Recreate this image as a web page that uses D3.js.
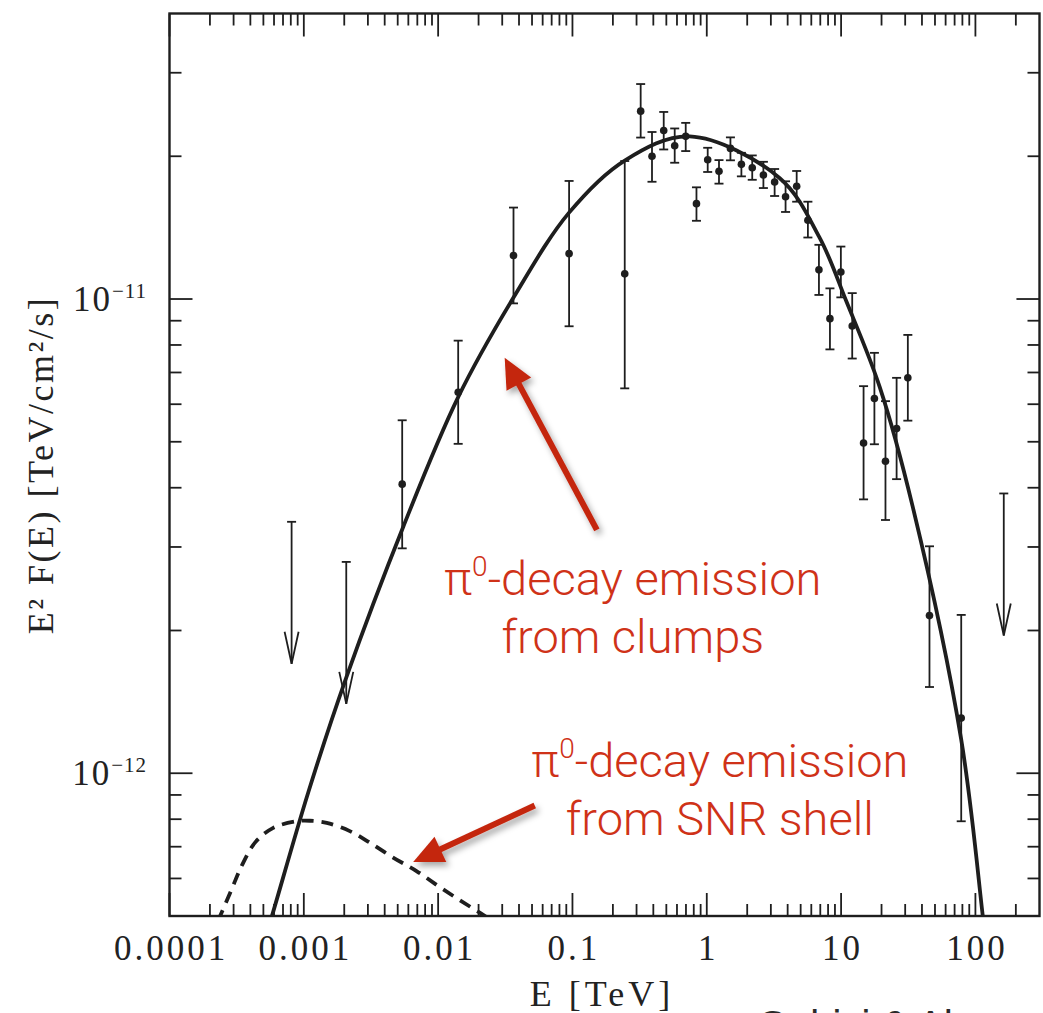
<!DOCTYPE html>
<html>
<head>
<meta charset="utf-8">
<script src="https://cdn.jsdelivr.net/npm/d3@7"></script>
<style>
  body { margin: 0; background: #fff; }
  .tick-label { font-family: 'Liberation Serif', 'Times New Roman', serif; fill: #222; }
  .note { font-family: Roboto, 'Helvetica Neue', Arial, sans-serif; font-weight: 300; fill: #cf3218; }
</style>
</head>
<body>
<svg id="chart" width="1043" height="1013"></svg>
<script>
// spectral points: energy [TeV], E^2 F(E) [TeV/cm^2/s] with error bar ends
const energy = [0.0054, 0.0141, 0.0364, 0.0944, 0.245, 0.322, 0.391, 0.478, 0.577, 0.697,
  0.838, 1.016, 1.233, 1.50, 1.81, 2.18, 2.64, 3.20, 3.86, 4.67, 5.66, 6.84, 8.26, 9.96,
  12.1, 14.7, 17.7, 21.4, 25.9, 31.4, 45.5, 78.4]
const flux = [4.07e-12, 6.36e-12, 1.235e-11, 1.247e-11, 1.13e-11, 2.49e-11, 2.0e-11, 2.267e-11,
  2.104e-11, 2.203e-11, 1.589e-11, 1.967e-11, 1.859e-11, 2.078e-11, 1.923e-11, 1.891e-11,
  1.826e-11, 1.765e-11, 1.643e-11, 1.729e-11, 1.466e-11, 1.152e-11, 9.09e-12, 1.14e-11,
  8.77e-12, 4.97e-12, 6.17e-12, 4.55e-12, 5.33e-12, 6.82e-12, 2.15e-12, 1.307e-12]
const fluxLo = [2.98e-12, 4.95e-12, 9.79e-12, 8.76e-12, 6.48e-12, 2.19e-11, 1.767e-11, 2.067e-11,
  1.938e-11, 2.051e-11, 1.462e-11, 1.853e-11, 1.751e-11, 1.961e-11, 1.814e-11, 1.784e-11,
  1.714e-11, 1.649e-11, 1.526e-11, 1.604e-11, 1.348e-11, 1.02e-11, 7.83e-12, 1.008e-11,
  7.49e-12, 3.78e-12, 4.94e-12, 3.42e-12, 4.17e-12, 5.54e-12, 1.52e-12, 7.92e-13]
const fluxHi = [5.55e-12, 8.17e-12, 1.559e-11, 1.774e-11, 1.954e-11, 2.84e-11, 2.25e-11, 2.48e-11,
  2.289e-11, 2.352e-11, 1.72e-11, 2.084e-11, 1.963e-11, 2.192e-11, 2.034e-11, 2.008e-11,
  1.947e-11, 1.88e-11, 1.771e-11, 1.862e-11, 1.604e-11, 1.301e-11, 1.053e-11, 1.29e-11,
  1.029e-11, 6.55e-12, 7.7e-12, 6.09e-12, 6.82e-12, 8.4e-12, 3.01e-12, 2.157e-12]

// upper limits
const ulEnergy = [8.11e-4, 2.07e-3, 162.6]
const ulFlux = [3.39e-12, 2.79e-12, 3.89e-12]

// pi0-decay model from clumps (solid)
const clumpE = [5.01e-4, 5.79e-4, 1.08e-3, 2.06e-3, 5.5e-3, 0.0141, 0.0364, 0.0944, 0.245,
  0.746, 3.48, 6.9, 10.94, 19.4, 34.2, 78.3, 113.5, 120.2]
const clumpF = [4.37e-13, 5.0e-13, 9.12e-13, 1.585e-12, 3.31e-12, 6.21e-12, 1.007e-11,
  1.521e-11, 1.959e-11, 2.203e-11, 1.8e-11, 1.349e-11, 9.89e-12, 6.52e-12, 3.64e-12,
  1.18e-12, 5.0e-13, 4.37e-13]

// pi0-decay model from the SNR shell (dashed)
const shellE = [1.97e-4, 2.38e-4, 2.9e-4, 3.44e-4, 4.33e-4, 5.92e-4, 8.83e-4, 1.11e-3, 1.48e-3,
  2.2e-3, 3.1e-3, 4.62e-3, 6.9e-3, 0.0109, 0.0204, 0.0278]
const shellF = [4.47e-13, 5.0e-13, 5.69e-13, 6.37e-13, 7.14e-13, 7.67e-13, 7.92e-13, 7.94e-13,
  7.86e-13, 7.55e-13, 7.14e-13, 6.64e-13, 6.22e-13, 5.69e-13, 5.08e-13, 4.81e-13]

const xTickValues = [1e-4, 1e-3, 1e-2, 1e-1, 1, 10, 100]
const xTickLabels = ['0.0001', '0.001', '0.01', '0.1', '1', '10', '100']
const yTickValues = [1e-12, 1e-11]
const yTickExps = ['\u221212', '\u221211']

// annotations: [text lines], anchor (E, F); arrows from -> to in data units
const noteLines = [['\u03c0', '0', '-decay emission'], ['', '', 'from clumps'],
  ['\u03c0', '0', '-decay emission'], ['', '', 'from SNR shell']]
const noteE = [0.281, 0.281, 1.25, 1.25]
const noteF = [2.38e-12, 1.79e-12, 9.84e-13, 7.41e-13]
const arrowFromE = [0.152, 0.0524]
const arrowFromF = [3.26e-12, 8.55e-13]
const arrowToE = [0.0313, 6.52e-3]
const arrowToF = [7.52e-12, 6.5e-13]

const plotLeft = 169.5, plotRight = 1039.5, plotTop = 13.5, plotBottom = 916

const svg = d3.select('#chart')

const x = d3.scaleLog().domain([1e-4, 300]).range([plotLeft, plotRight])
const y = d3.scaleLog().domain([5e-13, 4e-11]).range([plotBottom, plotTop])

const ink = '#1e1e1e'

// minor tick positions 2..9 per decade inside each domain
const minorTicks = (domain) => {
  const out = []
  const lo = Math.floor(Math.log10(domain[0])), hi = Math.ceil(Math.log10(domain[1]))
  for (let p = lo; p <= hi; p++) {
    for (let k = 2; k <= 9; k++) {
      const v = k * Math.pow(10, p)
      if (v > domain[0] * 1.0001 && v < domain[1] * 0.9999) out.push(v)
    }
  }
  return out
}

const xMinor = minorTicks(x.domain())
const yMinor = minorTicks(y.domain())

const axes = svg.append('g').attr('stroke', ink).attr('stroke-width', 1.8)

const tickSet = (vals, len) => {
  vals.forEach(v => {
    axes.append('line').attr('x1', x(v)).attr('x2', x(v)).attr('y1', plotBottom).attr('y2', plotBottom - len)
    axes.append('line').attr('x1', x(v)).attr('x2', x(v)).attr('y1', plotTop).attr('y2', plotTop + len)
  })
}
tickSet(xTickValues, 23)
tickSet(xMinor, 12)

const yTickSet = (vals, len) => {
  vals.forEach(v => {
    axes.append('line').attr('x1', plotLeft).attr('x2', plotLeft + len).attr('y1', y(v)).attr('y2', y(v))
    axes.append('line').attr('x1', plotRight).attr('x2', plotRight - len).attr('y1', y(v)).attr('y2', y(v))
  })
}
yTickSet(yTickValues, 23)
yTickSet(yMinor, 12)

svg.append('rect')
  .attr('x', plotLeft).attr('y', plotTop)
  .attr('width', plotRight - plotLeft).attr('height', plotBottom - plotTop)
  .attr('fill', 'none').attr('stroke', ink).attr('stroke-width', 2.4)

// tick labels
svg.selectAll('.xlab')
  .data(xTickValues)
  .enter()
  .append('text')
  .attr('class', 'tick-label')
  .attr('x', d => x(d) + 1.5)
  .attr('y', 960)
  .attr('text-anchor', 'middle')
  .style('font-size', '35px')
  .style('letter-spacing', '3px')
  .text((d, i) => xTickLabels[i])

const ylab = svg.selectAll('.ylab')
  .data(yTickValues)
  .enter()
  .append('text')
  .attr('class', 'tick-label')
  .attr('x', 147)
  .attr('y', d => y(d) + 12)
  .attr('text-anchor', 'end')
  .style('font-size', '35px')
ylab.append('tspan').style('letter-spacing', '2px').text('10')
ylab.append('tspan')
  .attr('dy', -13)
  .style('font-size', '21px')
  .style('letter-spacing', '1px')
  .text((d, i) => yTickExps[i])

// axis titles
svg.append('text')
  .attr('class', 'tick-label')
  .attr('x', 602)
  .attr('y', 1006)
  .attr('text-anchor', 'middle')
  .style('font-size', '36px')
  .style('letter-spacing', '4px')
  .text('E [TeV]')

svg.append('text')
  .attr('class', 'tick-label')
  .attr('transform', 'translate(53,465) rotate(-90)')
  .attr('text-anchor', 'middle')
  .style('font-size', '36px')
  .style('letter-spacing', '2.5px')
  .text('E\u00b2 F(E) [TeV/cm\u00b2/s]')

// plot area clip for the model curves
svg.append('clipPath')
  .attr('id', 'plot-clip')
  .append('rect')
  .attr('x', plotLeft).attr('y', plotTop)
  .attr('width', plotRight - plotLeft).attr('height', plotBottom - plotTop)

const line = d3.line()
  .x(d => x(d[0]))
  .y(d => y(d[1]))
  .curve(d3.curveCatmullRom.alpha(0.5))

const curves = svg.append('g').attr('clip-path', 'url(#plot-clip)')

curves.append('path')
  .attr('d', line(d3.zip(clumpE, clumpF)))
  .attr('fill', 'none')
  .attr('stroke', ink)
  .attr('stroke-width', 3.8)

curves.append('path')
  .attr('d', line(d3.zip(shellE, shellF)))
  .attr('fill', 'none')
  .attr('stroke', ink)
  .attr('stroke-width', 3.8)
  .attr('stroke-dasharray', '12,8')

// error bars and points
const pts = svg.append('g')
const capW = 4.5
energy.forEach((e, i) => {
  const cx = x(e)
  pts.append('line')
    .attr('x1', cx).attr('x2', cx)
    .attr('y1', y(fluxLo[i])).attr('y2', y(fluxHi[i]))
    .attr('stroke', ink).attr('stroke-width', 1.8)
  ;[fluxLo[i], fluxHi[i]].forEach(f => {
    pts.append('line')
      .attr('x1', cx - capW).attr('x2', cx + capW)
      .attr('y1', y(f)).attr('y2', y(f))
      .attr('stroke', ink).attr('stroke-width', 1.8)
  })
  pts.append('circle')
    .attr('cx', cx).attr('cy', y(flux[i]))
    .attr('r', 3.8)
    .attr('fill', ink)
})

// upper limit arrows
const ulLen = 142
ulEnergy.forEach((e, i) => {
  const cx = x(e), y0 = y(ulFlux[i]), y1 = y0 + ulLen
  pts.append('line')
    .attr('x1', cx).attr('x2', cx).attr('y1', y0).attr('y2', y1)
    .attr('stroke', ink).attr('stroke-width', 1.8)
  pts.append('line')
    .attr('x1', cx - capW).attr('x2', cx + capW).attr('y1', y0).attr('y2', y0)
    .attr('stroke', ink).attr('stroke-width', 1.8)
  pts.append('path')
    .attr('d', 'M' + (cx - 7) + ',' + (y1 - 32) + 'L' + cx + ',' + y1 + 'L' + (cx + 7) + ',' + (y1 - 32))
    .attr('fill', 'none')
    .attr('stroke', ink).attr('stroke-width', 1.8)
})

// red annotation arrows with a soft shadow
const defs = svg.append('defs')
defs.append('filter')
  .attr('id', 'shadow')
  .attr('x', '-30%').attr('y', '-30%').attr('width', '160%').attr('height', '160%')
  .append('feDropShadow')
  .attr('dx', 3).attr('dy', 4).attr('stdDeviation', 3)
  .attr('flood-color', '#000').attr('flood-opacity', 0.35)

const arrowColor = '#c4260f'
arrowFromE.forEach((e, i) => {
  const x0 = x(e), y0 = y(arrowFromF[i])
  const x1 = x(arrowToE[i]), y1 = y(arrowToF[i])
  const ang = Math.atan2(y1 - y0, x1 - x0)
  const headLen = 30, headHalf = 14
  const bx = x1 - headLen * Math.cos(ang), by = y1 - headLen * Math.sin(ang)
  const nx = -Math.sin(ang), ny = Math.cos(ang)
  const g = svg.append('g').attr('filter', 'url(#shadow)')
  g.append('line')
    .attr('x1', x0).attr('y1', y0).attr('x2', bx + 4 * Math.cos(ang)).attr('y2', by + 4 * Math.sin(ang))
    .attr('stroke', arrowColor).attr('stroke-width', 6)
  g.append('path')
    .attr('d', 'M' + x1 + ',' + y1 +
      'L' + (bx + nx * headHalf) + ',' + (by + ny * headHalf) +
      'L' + (bx - nx * headHalf) + ',' + (by - ny * headHalf) + 'Z')
    .attr('fill', arrowColor)
})

// annotation text
noteLines.forEach((parts, i) => {
  const t = svg.append('text')
    .attr('class', 'note')
    .attr('x', x(noteE[i]))
    .attr('y', y(noteF[i]))
    .attr('text-anchor', 'middle')
    .style('font-size', '47px')
  if (parts[0]) {
    t.append('tspan').text(parts[0])
    t.append('tspan').attr('dy', -19).style('font-size', '28px').text(parts[1])
    t.append('tspan').attr('dy', 19).text(parts[2])
  } else {
    t.append('tspan').text(parts[2])
  }
})

// citation line running off the bottom edge
svg.append('text')
  .attr('x', 757)
  .attr('y', 1039)
  .style('font-family', "'Liberation Sans', Arial, sans-serif")
  .style('font-size', '40px')
  .attr('fill', '#2a2a2a')
  .text('Gabici & Aharonian')
</script>
</body>
</html>
